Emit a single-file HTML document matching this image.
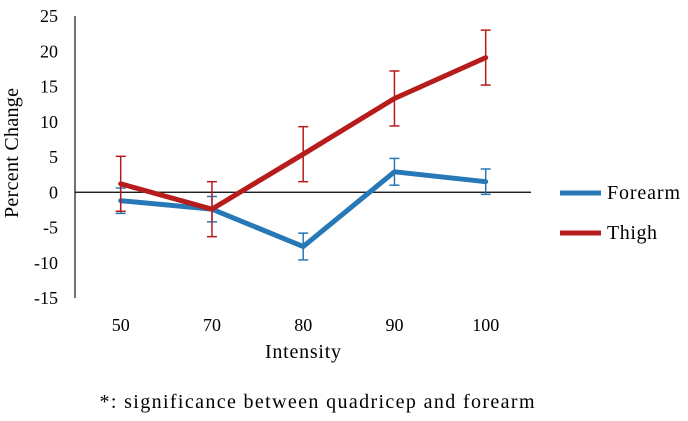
<!DOCTYPE html>
<html><head><meta charset="utf-8"><style>
html,body{margin:0;padding:0;background:#fff;}
svg{display:block;font-family:"Liberation Serif",serif;}
</style></head><body>
<svg id="chart" width="688" height="421" viewBox="0 0 688 421">
<g id="axes"></g><g id="series"></g>
<text x="18" y="153" font-size="20" text-anchor="middle" textLength="130" transform="rotate(-90 18 153)">Percent Change</text>
<text x="303" y="358" font-size="20" text-anchor="middle" textLength="76">Intensity</text>
<text x="317" y="408" font-size="20" text-anchor="middle" textLength="435">*: significance between quadricep and forearm</text>
<g>
<line x1="560" y1="193" x2="601" y2="193" stroke="#2678b6" stroke-width="5"/>
<text x="607" y="199" font-size="20" textLength="73">Forearm</text>
<line x1="560" y1="233" x2="601" y2="233" stroke="#b71c1c" stroke-width="5"/>
<text x="607" y="239" font-size="20" textLength="50">Thigh</text>
</g>
</svg>
<script>
const categories = ["50","70","80","90","100"];
const forearm = [-1.2,-2.4,-7.7,2.9,1.5];
const forearmErr = [1.8,1.8,1.9,1.9,1.8];
const thigh = [1.2,-2.4,5.4,13.3,19.1];
const thighErr = [3.9,3.9,3.9,3.9,3.9];
const yTicks = [25,20,15,10,5,0,-5,-10,-15];

const NS="http://www.w3.org/2000/svg";
const yMin=-15,yMax=25,yTop=16,yBot=298;
function y(v){return yBot-(v-yMin)/(yMax-yMin)*(yBot-yTop);}
function x(i){return 120.7+i*91.25;}
function mk(tag,attrs,parent){const e=document.createElementNS(NS,tag);for(const k in attrs)e.setAttribute(k,attrs[k]);parent.appendChild(e);return e;}
const axes=document.getElementById('axes'),ser=document.getElementById('series');
let a=mk('line',{x1:75,y1:yTop,x2:75,y2:yBot,stroke:'#444','stroke-width':1.5},axes);


let z=mk('line',{x1:75,y1:y(0),x2:531,y2:y(0),stroke:'#000','stroke-width':1.3},axes);


yTicks.forEach(v=>{const t=mk('text',{x:58,y:y(v)+6,'font-size':18,'text-anchor':'end'},axes);t.textContent=v;

});
categories.forEach((c,i)=>{const t=mk('text',{x:x(i),y:331,'font-size':18,'text-anchor':'middle'},axes);t.textContent=c;

});
function draw(vals,errs,color,name,ew){
  vals.forEach((v,i)=>{const g=mk('g',{stroke:color,'stroke-width':ew},ser);
    
    
    const t=y(v+errs[i]),b=y(v-errs[i]),cx=x(i);
    mk('line',{x1:cx,y1:t,x2:cx,y2:b},g);mk('line',{x1:cx-5,y1:t,x2:cx+5,y2:t},g);mk('line',{x1:cx-5,y1:b,x2:cx+5,y2:b},g);});
  const p=mk('polyline',{points:vals.map((v,i)=>x(i)+','+y(v)).join(' '),fill:'none',stroke:color,'stroke-width':5,'stroke-linejoin':'round','stroke-linecap':'round'},ser);
  
  
}
draw(forearm,forearmErr,'#2678b6','forearm',1.5);
draw(thigh,thighErr,'#b71c1c','thigh',1.5);
</script>
</body></html>
